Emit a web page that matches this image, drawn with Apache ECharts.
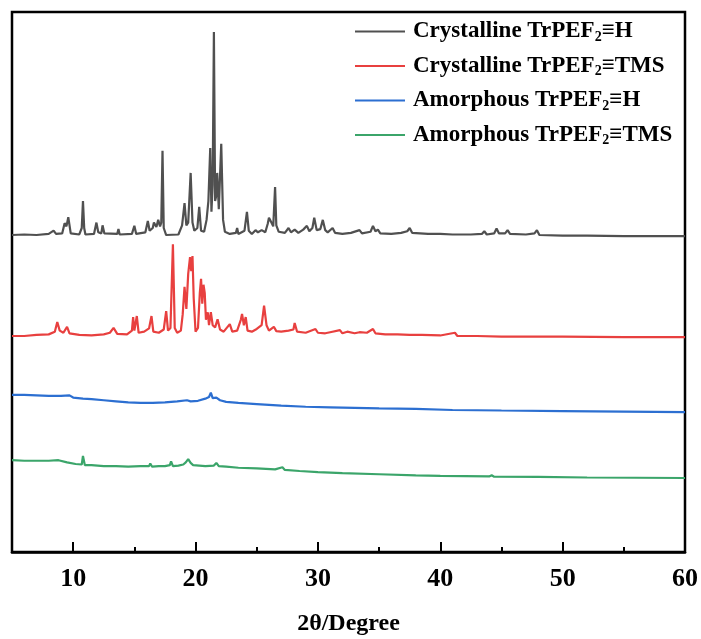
<!DOCTYPE html>
<html>
<head>
<meta charset="utf-8">
<script src="https://cdn.jsdelivr.net/npm/echarts@6/dist/echarts.min.js"></script>
<style>
  html, body { margin: 0; padding: 0; background: #fff; }
  #chart { width: 701px; height: 639px; }
</style>
</head>
<body>
<div id="chart"></div>
<script>
// Stacked XRD patterns (intensities already offset for display), 2θ in degrees.
const seriesNames = [
  'Crystalline TrPEF2≡H',
  'Crystalline TrPEF2≡TMS',
  'Amorphous TrPEF2≡H',
  'Amorphous TrPEF2≡TMS'
];

const crystHX = [5.0,6.0,7.0,8.0,8.4,8.6,9.1,9.3,9.45,9.6,9.8,10.5,10.7,10.8,10.9,11.0,11.7,11.9,12.05,12.3,12.4,12.55,13.6,13.7,13.8,14.8,15.0,15.15,15.9,16.1,16.25,16.5,16.6,16.8,16.95,17.1,17.2,17.3,17.4,17.6,18.6,18.9,19.1,19.25,19.4,19.6,19.75,19.9,20.15,20.3,20.45,20.7,20.9,21.05,21.2,21.3,21.4,21.5,21.6,21.7,21.77,21.9,22.1,22.25,22.4,22.8,23.3,23.4,23.5,24.0,24.2,24.35,24.6,24.9,25.1,25.4,25.7,25.9,26.0,26.2,26.35,26.5,26.6,26.8,27.3,27.6,27.8,28.1,28.4,28.8,29.1,29.3,29.55,29.7,29.9,30.2,30.4,30.6,30.8,31.2,31.4,32.0,32.7,33.4,33.6,34.3,34.5,34.7,34.9,35.1,36.0,36.8,37.3,37.5,37.7,39.0,40.0,41.0,42.5,43.4,43.6,43.8,44.4,44.6,44.8,45.3,45.5,45.7,47.0,47.7,47.9,48.1,50.0,52.0,55.0,58.0,60.0];
const crystHY = [58.7,58.8,58.7,58.9,59.5,58.9,59.0,60.9,60.3,62.0,59.0,58.8,60.0,65.0,60.0,58.8,58.9,61.0,59.2,59.0,60.5,59.0,58.9,59.8,58.8,58.9,60.4,58.9,59.2,61.3,59.5,60.0,61.0,60.2,61.5,60.3,61.0,74.3,60.0,58.7,58.8,60.5,64.6,60.5,61.0,70.2,61.0,59.5,60.0,63.9,59.5,59.3,61.5,65.0,74.8,63.0,68.0,96.3,65.0,66.0,70.2,63.5,75.6,61.5,59.3,58.9,59.1,60.0,58.9,59.5,63.0,59.5,58.9,59.6,59.2,59.6,59.2,60.8,61.9,61.0,60.3,67.6,60.5,59.3,59.1,60.0,59.2,59.7,59.1,59.7,60.4,59.4,60.0,61.9,59.6,59.8,61.5,59.6,59.2,60.0,59.1,58.9,59.1,59.6,59.0,59.3,60.4,59.4,59.7,59.0,58.9,59.1,59.4,60.0,59.1,58.9,58.9,58.8,58.8,58.9,59.4,58.8,59.0,59.9,59.0,59.0,59.6,58.9,58.8,59.0,59.6,58.7,58.6,58.6,58.5,58.5,58.5];

const crystTX = [5.0,6.0,7.0,8.0,8.5,8.7,8.9,9.2,9.5,9.7,10.5,11.5,12.5,13.0,13.3,13.6,14.4,14.8,14.9,15.0,15.1,15.2,15.35,15.8,16.2,16.4,16.55,17.0,17.4,17.6,17.75,17.95,18.15,18.3,18.5,18.8,18.95,19.1,19.25,19.4,19.55,19.65,19.75,19.85,20.0,20.2,20.35,20.45,20.55,20.65,20.75,20.85,21.0,21.1,21.25,21.4,21.6,21.8,22.0,22.3,22.8,23.0,23.4,23.7,23.8,23.95,24.1,24.25,24.6,25.0,25.4,25.6,25.8,26.0,26.4,26.6,27.0,27.6,28.0,28.1,28.3,29.0,29.8,30.0,30.6,31.0,31.8,32.0,32.4,33.0,33.4,34.0,34.5,34.7,35.5,36.5,37.5,38.5,40.0,41.2,41.4,43.0,45.0,47.0,50.0,55.0,60.0];
const crystTY = [40.0,40.0,40.2,40.3,40.8,42.6,41.0,40.6,41.7,40.5,40.2,40.1,40.3,40.6,41.5,40.4,40.3,41.0,43.5,41.0,41.2,43.7,40.6,40.8,41.4,43.7,40.8,40.6,41.2,44.6,41.0,41.5,57.0,41.5,40.6,41.0,44.0,49.1,45.0,51.5,54.6,52.0,54.8,47.0,40.8,41.5,48.0,50.6,46.0,49.5,48.0,43.0,44.4,42.0,44.4,42.0,41.6,43.1,41.2,40.8,42.2,40.8,41.0,43.0,44.1,42.0,43.5,41.0,40.8,41.3,42.0,45.6,42.0,41.0,41.7,40.9,40.8,41.0,41.2,42.4,40.8,40.6,41.3,40.6,40.5,40.7,41.1,40.5,40.8,40.5,40.7,40.6,41.3,40.5,40.3,40.3,40.2,40.2,40.1,40.6,40.0,40.0,39.9,39.9,39.9,39.8,39.8];

const amorHX = [5.0,6.0,7.0,8.0,9.0,9.7,10.0,10.8,11.5,12.5,13.5,14.5,15.5,16.5,17.5,18.5,19.3,19.6,20.2,20.8,21.1,21.25,21.4,21.7,22.0,22.5,23.5,25.0,27.0,29.0,31.0,33.0,35.0,38.0,41.0,45.0,50.0,55.0,60.0];
const amorHY = [29.1,29.1,29.0,28.9,28.9,29.0,28.6,28.4,28.3,28.1,27.9,27.7,27.6,27.6,27.7,27.9,28.1,27.9,28.0,28.4,28.7,29.5,28.5,28.6,28.1,27.8,27.6,27.4,27.1,26.9,26.8,26.7,26.6,26.5,26.3,26.2,26.1,26.0,25.9];

const amorTX = [5.0,6.0,7.0,8.0,8.8,9.5,10.2,10.7,10.8,10.95,11.5,12.5,13.5,14.5,15.5,16.2,16.3,16.45,17.0,17.5,17.9,18.0,18.15,18.6,19.0,19.2,19.4,19.6,19.8,20.3,20.8,21.5,21.7,21.9,22.5,23.5,25.0,26.5,27.1,27.3,28.5,30.0,32.0,35.0,38.0,40.0,44.0,44.2,44.4,48.0,52.0,56.0,60.0];
const amorTY = [17.0,16.9,16.9,16.9,17.0,16.6,16.3,16.2,17.8,16.1,16.1,15.9,15.9,15.8,15.9,15.9,16.4,15.8,15.9,15.9,16.1,16.8,15.9,16.0,16.2,16.6,17.2,16.5,16.1,16.0,15.9,16.0,16.5,15.9,15.8,15.6,15.5,15.3,15.7,15.2,15.0,14.8,14.6,14.4,14.2,14.1,14.0,14.2,13.95,13.9,13.8,13.75,13.7];

// Axis tick positions
const majorTicks = [10, 20, 30, 40, 50, 60];
const minorTicks = [15, 25, 35, 45, 55];

const colors = ['#505050', '#e8403f', '#2c6fd1', '#3ba56a'];

function pairs(xs, ys) {
  return xs.map((x, i) => [x, ys[i]]);
}

const serif = '"Liberation Serif", "Times New Roman", serif';

const chart = echarts.init(document.getElementById('chart'), null, { renderer: 'canvas' });

const seriesData = [
  pairs(crystHX, crystHY),
  pairs(crystTX, crystTY),
  pairs(amorHX, amorHY),
  pairs(amorTX, amorTY)
];

chart.setOption({
  animation: false,
  backgroundColor: '#ffffff',
  color: colors,
  grid: {
    left: 12, right: 16, top: 12, bottom: 87,
    outerBoundsMode: 'none',
    show: true, borderColor: '#000', borderWidth: 2.5, backgroundColor: 'transparent'
  },
  legend: {
    orient: 'vertical',
    left: 350,
    top: 15,
    itemWidth: 50,
    itemHeight: 14,
    itemGap: 10.5,
    icon: 'path://M0,0 L50,0 L50,2 L0,2 Z',
    data: seriesNames,
    formatter: function (name) {
      const parts = name.split('2≡');
      return '{a|' + parts[0] + '}{s|2}{a|≡' + parts[1] + '}';
    },
    textStyle: {
      fontFamily: serif,
      fontWeight: 'bold',
      fontSize: 23,
      color: '#000',
      padding: [0, 0, 0, 3],
      rich: {
        a: { fontFamily: serif, fontWeight: 'bold', fontSize: 23, lineHeight: 25, color: '#000' },
        s: { fontFamily: serif, fontWeight: 'bold', fontSize: 14, lineHeight: 14, color: '#000', verticalAlign: 'bottom', padding: [10, 0, 0, 0] }
      }
    }
  },
  xAxis: [
    {
      type: 'value',
      min: 5,
      max: 60,
      position: 'bottom',
      axisLine: { show: true, lineStyle: { color: '#000', width: 2.5 } },
      axisTick: { show: true, inside: true, length: 10, customValues: majorTicks, lineStyle: { color: '#000', width: 2 } },
      axisLabel: {
        customValues: majorTicks,
        margin: 14,
        color: '#000',
        fontFamily: serif,
        fontWeight: 'bold',
        fontSize: 26
      },
      splitLine: { show: false },
      name: '2θ/Degree',
      nameLocation: 'middle',
      nameGap: 60,
      nameTextStyle: { color: '#000', fontFamily: serif, fontWeight: 'bold', fontSize: 24 }
    },
    {
      type: 'value',
      min: 5,
      max: 60,
      position: 'bottom',
      axisLine: { show: false },
      axisTick: { show: true, inside: true, length: 5, customValues: minorTicks, lineStyle: { color: '#000', width: 2 } },
      axisLabel: { show: false },
      splitLine: { show: false }
    }
  ],
  yAxis: {
    type: 'value',
    min: 0,
    max: 100,
    axisLine: { show: false },
    axisTick: { show: false },
    axisLabel: { show: false },
    splitLine: { show: false }
  },
  series: seriesNames.map((name, i) => ({
    name: name,
    type: 'line',
    xAxisIndex: 0,
    data: seriesData[i],
    symbol: 'none',
    lineStyle: { color: colors[i], width: 2.2 },
    itemStyle: { color: colors[i] }
  }))
});
</script>
</body>
</html>
